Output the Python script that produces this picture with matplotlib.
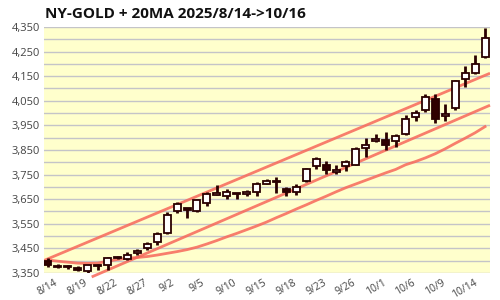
import matplotlib
matplotlib.use("Agg")
import matplotlib.pyplot as plt
from matplotlib.patches import Rectangle
import numpy as np

dates = ["8/14", "8/15", "8/18", "8/19", "8/20", "8/21", "8/22", "8/25", "8/26", "8/27",
         "8/28", "8/29", "9/2", "9/3", "9/4", "9/5", "9/8", "9/9", "9/10", "9/11",
         "9/12", "9/15", "9/16", "9/17", "9/18", "9/19", "9/22", "9/23", "9/24", "9/25",
         "9/26", "9/29", "9/30", "10/1", "10/2", "10/3", "10/6", "10/7", "10/8", "10/9",
         "10/10", "10/13", "10/14", "10/15", "10/16"]

opens = [3399, 3379, 3377, 3372, 3357, 3383, 3383, 3414, 3407, 3433,
         3451, 3477, 3512, 3603, 3614, 3602, 3636, 3667, 3665, 3675,
         3670, 3681, 3712, 3722, 3692, 3681, 3726, 3786, 3791, 3760,
         3786, 3790, 3860, 3888, 3892, 3885, 3916, 3984, 4011, 4059,
         3990, 4020, 4137, 4164, 4229]
highs = [3413, 3385, 3384, 3378, 3384, 3386, 3414, 3418, 3437, 3447,
         3474, 3517, 3596, 3637, 3616, 3650, 3678, 3708, 3690, 3677,
         3688, 3719, 3733, 3739, 3698, 3712, 3775, 3821, 3805, 3787,
         3811, 3862, 3900, 3916, 3923, 3916, 3991, 4011, 4079, 4077,
         4035, 4134, 4191, 4236, 4345]
lows = [3376, 3370, 3368, 3359, 3352, 3363, 3363, 3406, 3401, 3424,
        3443, 3463, 3507, 3594, 3572, 3596, 3621, 3667, 3652, 3651,
        3665, 3662, 3712, 3675, 3664, 3667, 3719, 3773, 3753, 3753,
        3765, 3790, 3821, 3882, 3848, 3862, 3909, 3968, 4004, 3960,
        3966, 4011, 4106, 4158, 4222]
closes = [3383, 3375, 3374, 3361, 3382, 3380, 3412, 3410, 3424, 3441,
          3467, 3509, 3586, 3631, 3606, 3648, 3670, 3677, 3678, 3670,
          3681, 3712, 3722, 3718, 3681, 3701, 3773, 3812, 3768, 3768,
          3802, 3853, 3870, 3896, 3871, 3905, 3975, 4002, 4066, 3977,
          3998, 4130, 4161, 4198, 4304]

ma20 = [3403, 3398, 3394, 3390, 3389, 3390, 3398, 3405, 3410, 3413,
        3417, 3423, 3430, 3437, 3445, 3455, 3468, 3482, 3497, 3511,
        3526, 3541, 3557, 3575, 3592, 3610, 3627, 3645, 3662, 3680,
        3697, 3712, 3727, 3742, 3757, 3771, 3790, 3803, 3818, 3835,
        3855, 3877, 3898, 3920, 3945]

# trend channel lines: (index, price) endpoints
upper_x = [-0.4, 44.5]
upper_y = [3401, 4162]
lower_x = [4.4, 44.5]
lower_y = [3334, 4032]

yticks = [3350, 3450, 3550, 3650, 3750, 3850, 3950, 4050, 4150, 4250, 4350]
title = "NY-GOLD + 20MA 2025/8/14->10/16"

fig = plt.figure(figsize=(5, 3), dpi=100)
ax = fig.add_axes([0.088, 0.09, 0.892, 0.82])
ax.set_facecolor("#ffffcc")

x = np.arange(len(dates))
ax.set_xlim(-0.4, 44.5)
ax.set_ylim(3350, 4350)

for g in np.arange(3350, 4351, 50):
    ax.axhline(g, color="#c4c4c8", lw=1.0, zorder=1)

red = "#f7675a"
ax.plot(upper_x, upper_y, color=red, lw=2, alpha=0.85, zorder=2, solid_capstyle="butt")
ax.plot(lower_x, lower_y, color=red, lw=2, alpha=0.85, zorder=2, clip_on=False, solid_capstyle="butt")
ax.plot(x, ma20, color=red, lw=2, alpha=0.85, zorder=2)

dark = "#2a0000"
w = 0.7
for i in range(len(dates)):
    o, h, l, c = opens[i], highs[i], lows[i], closes[i]
    ax.plot([i, i], [l, h], color=dark, lw=2.0, zorder=3, solid_capstyle="butt")
    bottom = min(o, c)
    height = max(abs(c - o), 2)
    face = "white" if c >= o else "#300000"
    ax.add_patch(Rectangle((i - w / 2, bottom), w, height, facecolor=face,
                           edgecolor=dark, lw=1.3, zorder=4))

for s in ax.spines.values():
    s.set_visible(False)

ax.set_yticks(yticks)
ax.set_yticklabels([f"{v:,}" for v in yticks], fontsize=8, color="#444444", family="Open Sans")
ax.set_xticks(x[::3])
ax.set_xticklabels(dates[::3], rotation=30, fontsize=7.5, color="#444444", family="Open Sans")
ax.tick_params(length=0, pad=3)

fig.text(0.09, 0.955, title, fontsize=11, fontweight="bold", family="Open Sans",
         color="#111111", ha="left", va="center")

fig.savefig("out.png", dpi=100)
